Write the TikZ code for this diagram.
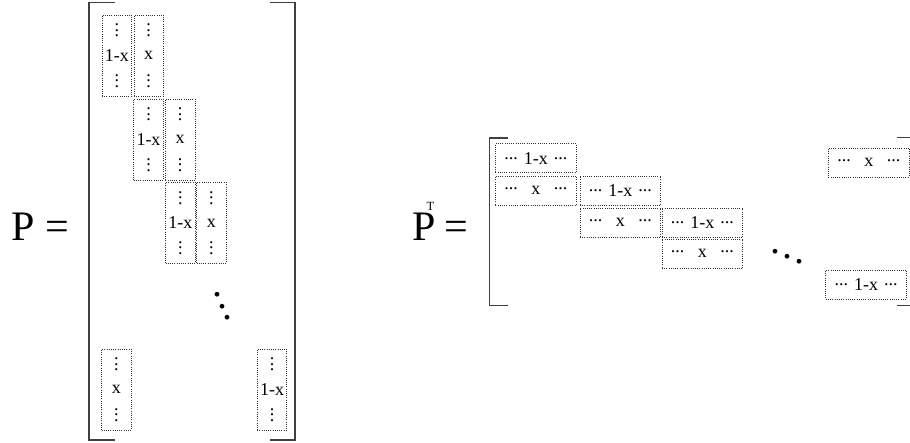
\documentclass[tikz,border=0pt]{standalone}
\usepackage{fontspec}
\setmainfont{Liberation Serif}
\newcommand\vdt{\vbox{\offinterlineskip\baselineskip=5.4pt\lineskiplimit=-100pt\lineskip=0pt\hbox{.}\hbox{.}\hbox{.}}}
\newcommand\hdt{\raisebox{5pt}{.{}.{}.}}
\newcommand\vcell[1]{\vbox to 63pt{\offinterlineskip\hbox to 29pt{\hss\vdt\hss}\vfill\hbox to 29pt{\hss#1\hss}\vfill\hbox to 29pt{\hss\vdt\hss}}}
\newcommand\hcell[1]{\hbox to 63pt{\hdt\hfil#1\hfil\hdt}}
\tikzset{
  brk/.style={line width=1.6pt, draw=black!75},
  cellline/.style={draw=black!80, dash pattern=on 0.8pt off 1.4pt, line width=0.8pt, inner sep=0pt, font=\fontsize{18}{20}\selectfont},
  vc/.style={cellline, minimum width=29.5pt, minimum height=81pt},
  hc/.style={cellline, minimum width=80.7pt, minimum height=29pt},
  big/.style={font=\fontsize{42}{44}\selectfont, inner sep=0pt, anchor=base west},
  dg/.style={font=\fontsize{40}{40}\selectfont, inner sep=0pt, anchor=base west}
}
\begin{document}
\begin{tikzpicture}[x=1pt,y=-1pt]
\useasboundingbox (0,0) rectangle (910,443);
\fill[white] (0,0) rectangle (910,443);
\clip (0,0) rectangle (910,443);
% ---- P ----
\node[big] (plabel) at (11,241) {P =};
\draw[brk] (115,2.7) -- (89,2.7) -- (89,440) -- (115,440);
\draw[brk] (270,2.7) -- (295,2.7) -- (295,440) -- (270,440);
\node[vc] (a1) at (116.8,55.7) {\vcell{1-x}};
\node[vc] (b1) at (148.7,55.7) {\vcell{x}};
\node[vc] (a2) at (148.5,139.7) {\vcell{1-x}};
\node[vc] (b2) at (180.2,139.7) {\vcell{x}};
\node[vc] (a3) at (180.4,223) {\vcell{1-x}};
\node[vc] (b3) at (211.3,223) {\vcell{x}};
\node[vc] (a4) at (116.4,389.7) {\vcell{x}};
\node[vc] (b4) at (272,389.7) {\vcell{1-x}};
\node[dg] (pdd) at (212.3,296.1) {.\kern-5pt\raisebox{-12.2pt}{.}\kern-5pt\raisebox{-23.7pt}{.}};
% ---- P^T ----
\node[big] (ptlabel) at (412,241) {P\rlap{\kern-9pt\raisebox{30pt}{\fontsize{12.5}{12.5}\selectfont T}}\kern8.6pt=};
\draw[brk] (508.3,138.3) -- (489.3,138.3) -- (489.3,305.5) -- (508.3,305.5);
\draw[brk] (896.7,137.7) -- (913,137.7) -- (913,305.7) -- (896.7,305.7);
\node[hc] (r1a) at (535.8,158.2) {\hcell{1-x}};
\node[hc] (r2a) at (535.8,190.7) {\hcell{x}};
\node[hc] (r2b) at (620.3,190.7) {\hcell{1-x}};
\node[hc] (r3b) at (620.3,222.8) {\hcell{x}};
\node[hc] (r3c) at (702.3,222.8) {\hcell{1-x}};
\node[hc] (r4c) at (702.3,253.8) {\hcell{x}};
\node[hc] (tr) at (868.8,162.5) {\hcell{x}};
\node[hc] (br) at (866.2,284.5) {\hcell{1-x}};
\node[dg] (ptdd) at (770.7,253.5) {.\kern1.6pt\raisebox{-5pt}{.}\kern1.7pt\raisebox{-10pt}{.}};
\end{tikzpicture}
\end{document}
